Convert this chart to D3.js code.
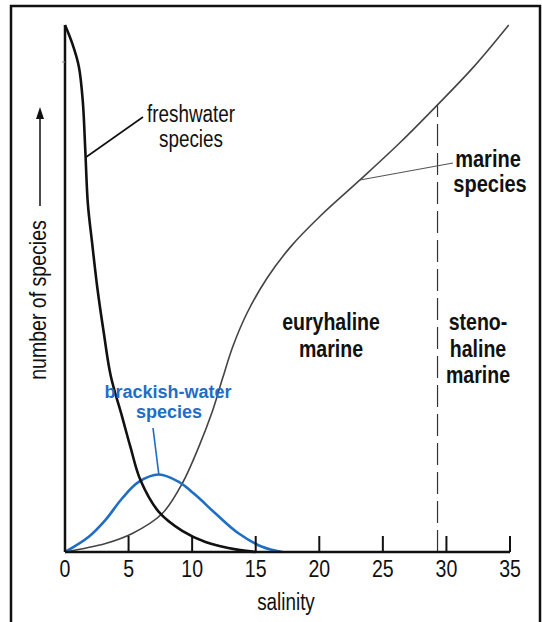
<!DOCTYPE html>
<html><head><meta charset="utf-8">
<script src="https://cdn.jsdelivr.net/npm/d3@7"></script>
<style>
html,body{margin:0;padding:0;background:#fff;}
svg{display:block;}
text{font-family:"Liberation Sans",Arial,sans-serif;}
</style></head>
<body><svg id="c" width="542" height="622"></svg>
<script>
// salinity ticks
const xTicks = [5, 10, 15, 20, 25, 30, 35];
const xTickLabels = ["0", "5", "10", "15", "20", "25", "30", "35"];
const xTickLabelValues = [0, 5, 10, 15, 20, 25, 30, 35];
// freshwater species: [salinity, relative number]
const freshwater = [[0,100],[0.57,96.5],[1.09,92.1],[1.4,85.5],[1.6,76.0],[1.8,66.0],[2.14,58.5],[2.55,50.0],[3.05,41.6],[3.6,33.4],[4.5,25.6],[5.15,19.9],[5.94,13.6],[7.38,7.6],[9.22,4.0],[11.05,1.9],[13.65,0.4],[15,0]];
// brackish-water species
const brackish = [[0,0],[1.87,2.9],[3.19,6.1],[4.5,10.2],[5.8,13.3],[7.38,14.7],[8.95,13.3],[10.27,10.8],[11.84,7.3],[13.67,3.5],[15.5,1.0],[17.1,0]];
// marine species
const marine = [[0,0],[3.19,1.6],[5.29,3.5],[7.65,7.3],[9.22,13.0],[10.53,20.0],[11.58,26.6],[12.4,33.0],[13.2,39.0],[14.33,45.4],[15.9,52.0],[17.74,57.9],[20.1,63.8],[23.2,70.6],[26.4,77.8],[29.28,84.8],[32.16,92.1],[34.9,100]];
// boundary between euryhaline and stenohaline marine
const stenoBoundary = [29.3];

const svg = d3.select("#c");
const x = d3.scaleLinear().domain([0, 35]).range([65, 510]);
const y = d3.scaleLinear().domain([0, 100]).range([552, 25]);

// frame
svg.append("rect").attr("x", 11).attr("y", 6).attr("width", 529).attr("height", 640)
  .attr("fill", "none").attr("stroke", "#111").attr("stroke-width", 2.5);

const line = d3.line().x(d => x(d[0])).y(d => y(d[1])).curve(d3.curveCatmullRom.alpha(0.5));

// condensed text helper
function label(parent, px, py, str, size, sx, opts) {
  const t = parent.append("text")
    .attr("transform", `translate(${px},${py}) scale(${sx},1)`)
    .attr("text-anchor", "middle").attr("font-size", size)
    .attr("fill", (opts && opts.fill) || "#111")
    .attr("font-weight", (opts && opts.bold) ? "bold" : "normal")
    .text(str);
  return t;
}

// dashed boundary
const marineAt = v => { for (let i=1;i<marine.length;i++){ if (marine[i][0]>=v){ const a=marine[i-1], b=marine[i]; return a[1]+(b[1]-a[1])*(v-a[0])/(b[0]-a[0]); } } return 100; };
svg.selectAll(".bnd").data(stenoBoundary).join("line")
  .attr("x1", d => x(d)).attr("x2", d => x(d))
  .attr("y1", d => y(0)).attr("y2", d => y(marineAt(d)))
  .attr("stroke", "#333").attr("stroke-width", 1.2).attr("stroke-dasharray", "22,7");

// curves
svg.append("path").datum(marine).attr("d", line).attr("fill", "none")
  .attr("stroke", "#444").attr("stroke-width", 1.6);
svg.append("path").datum(brackish).attr("d", line).attr("fill", "none")
  .attr("stroke", "#1f6ec4").attr("stroke-width", 2.6);
svg.append("path").datum(freshwater).attr("d", line).attr("fill", "none")
  .attr("stroke", "#111").attr("stroke-width", 2.6);

// axes
svg.append("line").attr("x1", x(0)).attr("x2", x(0)).attr("y1", y(0)).attr("y2", y(100))
  .attr("stroke", "#111").attr("stroke-width", 2.5);
svg.append("line").attr("x1", x(0)).attr("x2", x(35)).attr("y1", y(0)).attr("y2", y(0))
  .attr("stroke", "#111").attr("stroke-width", 2.5);
svg.append("line").attr("x1", x(0)-3).attr("x2", x(0)).attr("y1", 62).attr("y2", 62)
  .attr("stroke", "#888").attr("stroke-width", 1);
svg.selectAll(".tk").data(xTicks).join("line")
  .attr("x1", d => x(d)).attr("x2", d => x(d)).attr("y1", y(0)).attr("y2", y(0)-16)
  .attr("stroke", "#111").attr("stroke-width", 2);
xTickLabelValues.forEach((v, i) => label(svg, x(v), 577, xTickLabels[i], 23, 0.85));
label(svg, 286, 610, "salinity", 23, 0.82);

// y label + arrow
svg.append("text").attr("transform", "translate(46,300) rotate(-90) scale(0.85,1)")
  .attr("text-anchor", "middle").attr("font-size", 23).attr("fill", "#111").text("number of species");
svg.append("line").attr("x1", 40).attr("x2", 40).attr("y1", 206).attr("y2", 116)
  .attr("stroke", "#111").attr("stroke-width", 1.5);
svg.append("path").attr("d", "M40,107 L36,119 L44,119 Z").attr("fill", "#111");

// annotations
svg.append("line").attr("x1", x(1.67)).attr("y1", 157).attr("x2", 143).attr("y2", 117)
  .attr("stroke", "#111").attr("stroke-width", 1.6);
label(svg, 191, 122, "freshwater", 23, 0.82);
label(svg, 191, 147, "species", 23, 0.82);

svg.append("line").attr("x1", x(23.2)).attr("y1", y(70.6)).attr("x2", 453).attr("y2", 163)
  .attr("stroke", "#555").attr("stroke-width", 1.1);
label(svg, 488, 167, "marine", 23, 0.87, {bold: true});
label(svg, 490, 192, "species", 23, 0.87, {bold: true});

svg.append("line").attr("x1", x(7.38)).attr("y1", y(14.7)).attr("x2", 153).attr("y2", 428)
  .attr("stroke", "#1f6ec4").attr("stroke-width", 1.6);
label(svg, 168, 398, "brackish-water", 18, 1, {bold: true, fill: "#1f6ec4"});
label(svg, 169, 418, "species", 18, 1, {bold: true, fill: "#1f6ec4"});

label(svg, 331, 330, "euryhaline", 23, 0.85, {bold: true});
label(svg, 331, 357, "marine", 23, 0.85, {bold: true});
label(svg, 478, 330, "steno-", 23, 0.85, {bold: true});
label(svg, 478, 357, "haline", 23, 0.85, {bold: true});
label(svg, 478, 383, "marine", 23, 0.85, {bold: true});
</script></body></html>
